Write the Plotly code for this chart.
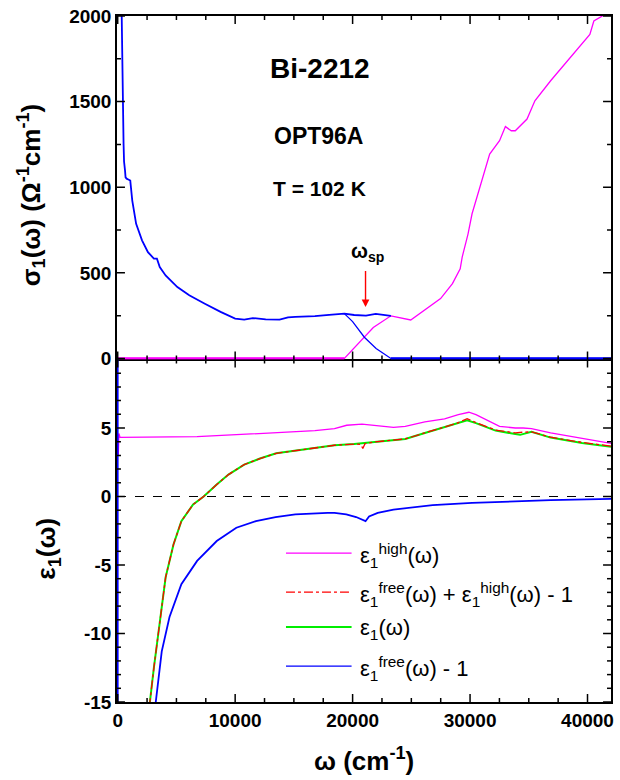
import plotly.graph_objects as go

# ---------------- data ----------------
# top panel: sigma_1 (Ohm^-1 cm^-1)
sig_meas_x = [320, 380, 450, 500, 540, 570, 620, 670, 760, 900, 1070, 1240, 1570, 2070, 2575,
              3080, 3340, 3580, 4080, 5080, 6090, 7420, 8760, 10000, 10770, 11500, 12100, 12600,
              13780, 14500, 15120, 16000, 16790, 18000, 18800, 19300, 20130, 21140, 21970, 23260]
sig_meas_y = [2100, 1700, 1350, 1250, 1150, 1136, 1100, 1058, 1050, 1045, 1039, 922, 786, 690, 621,
              583, 583, 534, 485, 417, 369, 320, 272, 233, 227, 236, 233, 228,
              227, 240, 243, 244, 247, 255, 262, 262, 254, 250, 260, 249]

sig_free_x = [19300, 20000, 21000, 22000, 23260, 30000, 42000]
sig_free_y = [262, 215, 124, 58, 0, 0, 0]

sig_high_x = [0, 19300, 21760, 23260, 24950, 26150, 27490, 28500, 29160, 29330, 29830, 30170, 30670,
              31670, 32510, 33010, 33510, 33850, 34850, 35520, 36860, 38530, 40200, 40540, 41200, 42000]
sig_high_y = [0, 0, 181, 249, 225, 282, 350, 437, 524, 592, 728, 845, 961,
              1194, 1272, 1354, 1330, 1330, 1398, 1505, 1622, 1757, 1893, 1971, 2000, 2030]

# bottom panel: epsilon_1
eps_high_x = [50, 100, 200, 3410, 6760, 10100, 13440, 16790, 18460, 19500, 20800, 22140, 23480, 24480,
              26150, 27830, 29000, 29900, 30500, 32510, 33850, 34520, 35230, 36860, 39530, 42000]
eps_high_y = [3.0, 4.6, 4.32, 4.32, 4.37, 4.51, 4.64, 4.81, 4.95, 5.2, 5.29, 5.19, 5.05, 5.12,
              5.44, 5.66, 5.97, 6.15, 5.97, 5.12, 5.0, 5.0, 4.96, 4.64, 4.22, 3.88]

eps1_x = [2550, 2740, 3080, 3410, 3750, 4080, 4750, 5420, 6420, 7320, 8430, 9430, 10770, 12110,
          13500, 15120, 16790, 18460, 20130, 21810, 23480, 24480, 26150, 27830, 28830, 29750,
          30500, 32170, 33850, 34260, 35230, 36860, 39530, 42000]
eps1_y = [-18, -15, -12.5, -10.3, -7.9, -5.9, -3.5, -1.8, -0.58, 0, 0.87, 1.6, 2.33, 2.77,
          3.15, 3.35, 3.54, 3.74, 3.83, 3.98, 4.15, 4.2, 4.64, 5.05, 5.29, 5.57,
          5.36, 4.81, 4.56, 4.5, 4.72, 4.3, 3.91, 3.63]

eps_sum_x = [2550, 2740, 3080, 3410, 3750, 4080, 4750, 5420, 6420, 7320, 8430, 9430, 10770, 12110,
             13500, 15120, 16790, 18460, 20130, 20700, 20870, 21050, 21810, 23480, 24480, 26150,
             27830, 28830, 29750, 30500, 32170, 33850, 34260, 35230, 36860, 39530, 42000]
eps_sum_y = [-18, -15, -12.5, -10.3, -7.9, -5.9, -3.5, -1.8, -0.58, 0, 0.87, 1.6, 2.33, 2.77,
             3.15, 3.35, 3.54, 3.74, 3.83, 3.8, 3.5, 3.85, 3.98, 4.15, 4.2, 4.64,
             5.08, 5.33, 5.68, 5.4, 4.85, 4.65, 4.68, 4.72, 4.33, 3.95, 3.68]

eps_free_x = [0, 0, 2900, 3240, 3750, 4410, 5420, 6760, 8430, 10100, 11770, 13440, 15120, 16790,
              17870, 18460, 19460, 20300, 21100, 21400, 22140, 23480, 26820, 30170, 33510, 36860, 42000]
eps_free_y = [11, -40, -20, -15, -11.3, -8.8, -6.4, -4.7, -3.25, -2.28, -1.8, -1.5, -1.31, -1.21,
              -1.2, -1.19, -1.31, -1.5, -1.8, -1.45, -1.19, -0.95, -0.63, -0.46, -0.34, -0.27, -0.18]

legend_labels = ["ε<sub>1</sub><sup>high</sup>(ω)",
                 "ε<sub>1</sub><sup>free</sup>(ω) + ε<sub>1</sub><sup>high</sup>(ω) - 1",
                 "ε<sub>1</sub>(ω)",
                 "ε<sub>1</sub><sup>free</sup>(ω) - 1"]

# tick spacing (major / minor)
x_major, x_minor = 10000, 2500
top_major, top_minor = 500, 250
bot_major, bot_minor = 5, 1
# plain hyphen minus signs as in the reference; hide the "10" at the top of the lower panel
bot_alias = {"\u221215": "-15", "\u221210": "-10", "\u22125": "-5", "10": " "}

# ---------------- figure ----------------
BLUE = "#0000ff"
MAG = "#ff00ff"
GREEN = "#00ee00"
RED = "#ff0000"
FONT = "Liberation Sans, Arial, Helvetica, sans-serif"

fig = go.Figure()

# top panel (x, y)
fig.add_trace(go.Scatter(x=sig_high_x, y=sig_high_y, mode="lines",
                         line=dict(color=MAG, width=1.3), xaxis="x", yaxis="y"))
fig.add_trace(go.Scatter(x=sig_free_x, y=sig_free_y, mode="lines",
                         line=dict(color=BLUE, width=1.3), xaxis="x", yaxis="y"))
fig.add_trace(go.Scatter(x=sig_meas_x, y=sig_meas_y, mode="lines",
                         line=dict(color=BLUE, width=1.8), xaxis="x", yaxis="y"))
# thicker zero parts
fig.add_trace(go.Scatter(x=sig_high_x[:2], y=sig_high_y[:2], mode="lines",
                         line=dict(color=MAG, width=2.6), xaxis="x", yaxis="y"))
fig.add_trace(go.Scatter(x=sig_free_x[4:], y=sig_free_y[4:], mode="lines",
                         line=dict(color=BLUE, width=2.6), xaxis="x", yaxis="y"))

# bottom panel (x2, y2)
fig.add_trace(go.Scatter(x=eps_high_x, y=eps_high_y, mode="lines",
                         line=dict(color=MAG, width=1.3), xaxis="x2", yaxis="y2"))
fig.add_trace(go.Scatter(x=eps1_x, y=eps1_y, mode="lines",
                         line=dict(color=GREEN, width=2), xaxis="x2", yaxis="y2"))
fig.add_trace(go.Scatter(x=eps_sum_x, y=eps_sum_y, mode="lines",
                         line=dict(color=RED, width=1.3, dash="dashdot"), xaxis="x2", yaxis="y2"))
fig.add_trace(go.Scatter(x=eps_free_x, y=eps_free_y, mode="lines",
                         line=dict(color=BLUE, width=1.8), xaxis="x2", yaxis="y2"))

# geometry
L, R, T, B = 117, 6, 15, 78
W, H = 620, 780
PW, PH = W - L - R, H - T - B
split = (702 - 359.0) / PH
XR = [-60, 42000]
TOP_R = [-6, 2000]
BOT_R = [-15, 10]


def px(xp):
    return (xp - L) / PW


def py(yp):
    return (H - B - yp) / PH


TICKFONT = dict(family=FONT, size=19, color="black", weight="bold")
base = dict(linecolor="black", linewidth=1.5, ticks="", showgrid=False, zeroline=False,
            tickfont=TICKFONT, tickmode="linear", tick0=0, tickformat="d")

fig.update_layout(
    width=W, height=H,
    margin=dict(l=L, r=R, t=T, b=B),
    paper_bgcolor="white", plot_bgcolor="white",
    showlegend=False,
    xaxis=dict(domain=[0, 1], range=XR, anchor="y", dtick=x_major,
               showticklabels=False, showline=True, mirror=True, layer="below traces", **base),
    yaxis=dict(domain=[split, 1], range=TOP_R, anchor="x", dtick=top_major,
               showline=True, mirror=True, layer="below traces", **base),
    xaxis2=dict(domain=[0, 1], range=XR, anchor="y2", dtick=x_major,
                showline=True, mirror=False, **base),
    yaxis2=dict(domain=[0, split], range=BOT_R, anchor="x2", dtick=bot_major,
                labelalias=bot_alias, showline=True, mirror=True, layer="below traces", **base),
)

# ---- tick marks (inside, on all four sides of both panels) ----
MAJ_LEN, MIN_LEN = 8, 4
top_h = split * 0 + (1 - split) * PH
bot_h = split * PH


def frange(lo, hi, step):
    n = int(round((hi - lo) / step))
    return [lo + i * step for i in range(n + 1)]


def add_xticks(xref, yref, panel_h):
    for v in frange(0, 40000, x_minor):
        ln = MAJ_LEN if v % x_major == 0 else MIN_LEN
        f = ln / panel_h
        for y0, y1 in ((0, f), (1, 1 - f)):
            fig.add_shape(type="line", xref=xref, yref=yref + " domain", x0=v, x1=v, y0=y0, y1=y1,
                          line=dict(color="black", width=1.5), layer="above")


def add_yticks(xref, yref, lo, hi, mstep, Mstep):
    for v in frange(lo, hi, mstep):
        ln = MAJ_LEN if abs(v / Mstep - round(v / Mstep)) < 1e-9 else MIN_LEN
        f = ln / PW
        for x0, x1 in ((0, f), (1, 1 - f)):
            fig.add_shape(type="line", xref=xref + " domain", yref=yref, x0=x0, x1=x1, y0=v, y1=v,
                          line=dict(color="black", width=1.5), layer="above")


add_xticks("x", "y", top_h)
add_xticks("x2", "y2", bot_h)
add_yticks("x", "y", 0, 2000, top_minor, top_major)
add_yticks("x2", "y2", -15, 10, bot_minor, bot_major)

# dashed zero line in bottom panel
fig.add_shape(type="line", xref="x2 domain", yref="y2", x0=0, x1=1, y0=0, y1=0,
              line=dict(color="black", width=1.2, dash="dash"), layer="below")


def ann(text, x, y, size, xanchor="center", yanchor="middle", **kw):
    fig.add_annotation(text=text, x=px(x), y=py(y), xref="paper", yref="paper",
                       xanchor=xanchor, yanchor=yanchor, showarrow=False,
                       font=dict(family=FONT, size=size, color="black"), **kw)


# texts in the top panel
ann("<b>Bi-2212</b>", 321, 68, 28)
ann("<b>OPT96A</b>", 320, 135, 23)
ann("<b>T = 102 K</b>", 321, 188, 21)
ann("<b>ω<sub>sp</sub></b>", 369, 252, 20)

# omega_sp arrow
fig.add_annotation(x=21100, y=300, ax=21100, ay=520, xref="x", yref="y", axref="x", ayref="y",
                   text="", showarrow=True, arrowhead=2, arrowsize=1.1, arrowwidth=1.4,
                   arrowcolor=RED)

# axis titles
ann("<b>σ<sub>1</sub>(ω) (Ω<sup>-1</sup>cm<sup>-1</sup>)</b>", 30, 194, 26, textangle=-90)
ann("<b>ε<sub>1</sub>(ω)</b>", 47, 548, 26, textangle=-90)
ann("<b>ω (cm<sup>-1</sup>)</b>", 366, 760, 26)

# manual legend
leg_colors = [MAG, RED, GREEN, BLUE]
leg_dash = ["solid", "dashdot", "solid", "solid"]
leg_width = [1.3, 1.3, 2, 1.3]
leg_y = [553, 592, 627, 666]
for lab, c, d, w, yy in zip(legend_labels, leg_colors, leg_dash, leg_width, leg_y):
    fig.add_shape(type="line", xref="paper", yref="paper", x0=px(287), x1=px(353),
                  y0=py(yy), y1=py(yy), line=dict(color=c, width=w, dash=d))
    ann(lab, 359, yy + 2, 22, xanchor="left")

fig.write_html("out.html")
